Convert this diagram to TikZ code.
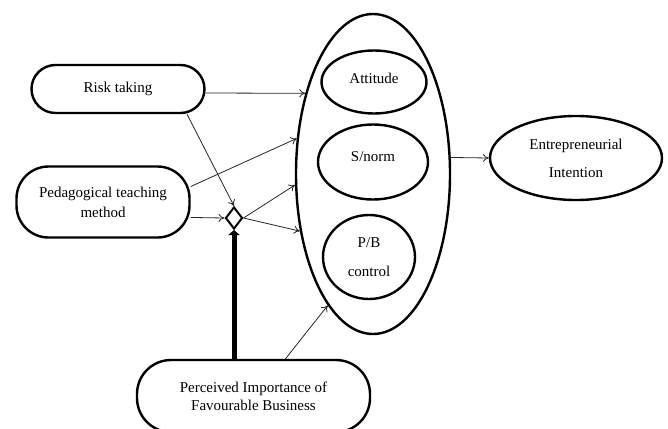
\documentclass[tikz,border=0pt]{standalone}
\usepackage{fontspec}
\setmainfont{Liberation Serif}
\usetikzlibrary{shapes.geometric,arrows.meta}
\begin{document}
\begin{tikzpicture}[x=1pt,y=-1pt,
  box/.style={draw, line width=2.4pt, rounded corners=#1, inner sep=0pt, align=center},
  ell/.style={draw, ellipse, line width=2.4pt, inner sep=0pt, align=center},
  arr/.style={-{To[length=6pt,width=8pt]}, line width=0.8pt, draw=black!85},
  txt/.style={font=\fontsize{15}{#1}\selectfont}
]
\useasboundingbox (0,0) rectangle (668,428);

\node[box=24pt, txt=20, minimum width=173pt, minimum height=48pt] (risk) at (118,89) {Risk taking};
\node[box=32pt, txt=20, minimum width=173pt, minimum height=71pt] (ped) at (103,202) {Pedagogical teaching\\method};
\node[box=34pt, txt=18, minimum width=233pt, minimum height=72pt] (perc) at (253.5,396) {Perceived Importance of\\Favourable Business};

\node[ell, minimum width=154pt, minimum height=320pt] (big) at (373,174) {};
\node[ell, txt=20, minimum width=105pt, minimum height=63pt] (att) at (374,82) {\raisebox{7pt}{Attitude}};
\node[ell, txt=20, minimum width=110pt, minimum height=75pt] (sn) at (373,162) {\raisebox{11pt}{S/norm}};
\node[ell, txt=29, minimum width=92pt, minimum height=84pt] (pb) at (369,257) {P/B\\control};
\node[ell, txt=28, minimum width=172pt, minimum height=84pt] (ent) at (576,158) {Entrepreneurial\\Intention};

\node[draw, diamond, line width=2pt, minimum width=17pt, minimum height=22pt, inner sep=0pt] (dia) at (234,218) {};

\draw[arr] ([yshift=-4pt]risk.east) -- (big.130);
\draw[arr] ([xshift=69pt]risk.south) -- (dia.north);
\draw[arr] (ped.10) -- (big.155);
\draw[arr] (ped.-10) -- (dia.west);
\draw[arr] (dia.east) -- (big.188);
\draw[arr] (dia.east) -- (big.218);
\draw[arr] ([xshift=32pt]perc.north) -- (big.251);
\draw[arr] (big.12) -- (ent.west);

\draw[line width=5pt, -{Triangle[length=5pt,width=11pt]}] (perc.north -| dia.south) -- (dia.south);
\end{tikzpicture}
\end{document}
